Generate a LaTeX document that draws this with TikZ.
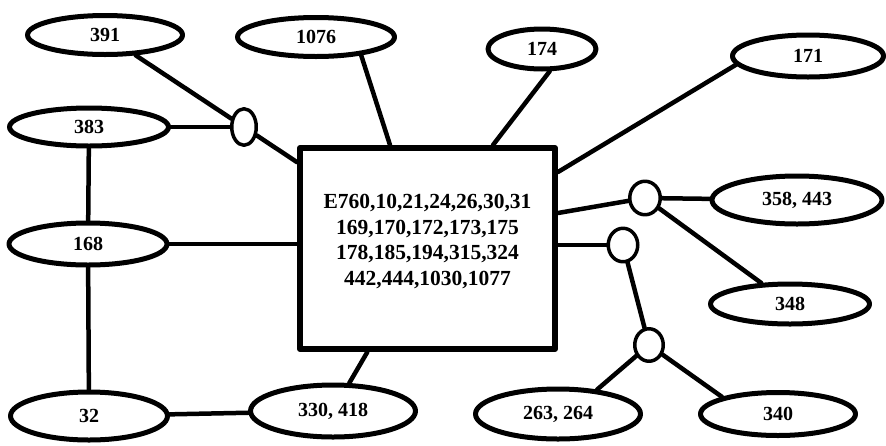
\documentclass[tikz,border=0pt]{standalone}
\usepackage{fontspec}
\setmainfont{Liberation Serif}
\usetikzlibrary{shapes.geometric}
\begin{document}
\begin{tikzpicture}[x=1pt,y=-1pt,line join=round,line cap=round,
	grp/.style={ellipse,draw,line width=5pt,inner sep=0pt,font=\fontsize{20}{24}\selectfont\bfseries},
	hub/.style={ellipse,draw,line width=3.5pt,fill=white,inner sep=0pt},
	link/.style={line width=4.5pt}]
	\useasboundingbox (0,0) rectangle (886,445);
	% central box
	\node[draw,line width=6pt,minimum width=255pt,minimum height=201pt] (box) at (427.5,248.5) {};
	\node[font=\fontsize{21.5}{25.5}\selectfont\bfseries,align=center,inner sep=0pt] (boxtext) at ([yshift=7pt]box.center)
		{E760,10,21,24,26,30,31\\169,170,172,173,175\\178,185,194,315,324\\442,444,1030,1077};
	% groups
	\node[grp,minimum width=155pt,minimum height=39pt] (n391) at (105,35) {391};
	\node[grp,minimum width=157pt,minimum height=39pt] (n1076) at (316,37) {1076};
	\node[grp,minimum width=108pt,minimum height=40pt] (n174) at (542,49) {174};
	\node[grp,minimum width=151pt,minimum height=42pt] (n171) at (808,56) {171};
	\node[grp,minimum width=159pt,minimum height=38pt] (n383) at (89,127) {383};
	\node[grp,minimum width=158pt,minimum height=42pt] (n168) at (88,244) {168};
	\node[grp,minimum width=157pt,minimum height=48pt] (n32) at (89,416) {32};
	\node[grp,minimum width=165pt,minimum height=52pt] (n330) at (333,411) {330, 418};
	\node[grp,minimum width=165pt,minimum height=50pt] (n263) at (558,414) {263, 264};
	\node[grp,minimum width=155pt,minimum height=43pt] (n340) at (778,414) {340};
	\node[grp,minimum width=159pt,minimum height=40pt] (n348) at (790,304) {348};
	\node[grp,minimum width=170pt,minimum height=48pt] (n358) at (797,200) {358, 443};
	% hubs
	\node[hub,minimum width=24.5pt,minimum height=36.5pt] (hA) at (244,127) {};
	\node[hub,minimum width=30.5pt,minimum height=33.5pt] (hB) at (645,198) {};
	\node[hub,minimum width=29.5pt,minimum height=33.5pt] (hC) at (623,245) {};
	\node[hub,minimum width=28.5pt,minimum height=32.5pt] (hD) at (649,345) {};
	% points on the box
	\coordinate (t1076) at ([xshift=93pt]box.north west);
	\coordinate (t174) at ([xshift=196pt]box.north west);
	\coordinate (t171) at ([yshift=-27pt]box.north east);
	\coordinate (tB) at ([yshift=-68pt]box.north east);
	% links
	\draw[link] (n391) -- (hA);
	\draw[link] (n383) -- (hA);
	\draw[link] (hA) -- (box);
	\draw[link] (n383) -- (n168);
	\draw[link] (n168) -- (n168 -| box.west);
	\draw[link] (n168) -- (n32);
	\draw[link] (n32) -- (n330);
	\draw[link] (n330) -- (box);
	\draw[link] (t1076) -- (n1076.-22);
	\draw[link] (t174) -- (n174.-71);
	\draw[link] (t171) -- (n171.187);
	\draw[link] (tB) -- (hB);
	\draw[link] (hB) -- (n358);
	\draw[link] (hB) -- (n348);
	\draw[link] (hC -| box.east) -- (hC);
	\draw[link] (hC) -- (hD);
	\draw[link] (hD) -- (n263.32);
	\draw[link] (hD) -- (n340.163);
\end{tikzpicture}
\end{document}
